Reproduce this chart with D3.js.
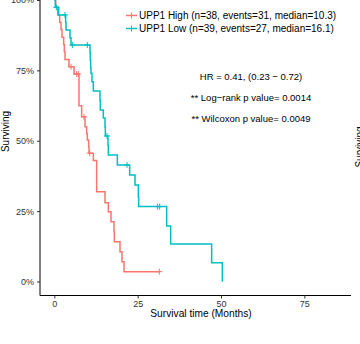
<!DOCTYPE html>
<html>
<head>
<meta charset="utf-8">
<script src="https://cdn.jsdelivr.net/npm/d3@7"></script>
<style>
  body { margin: 0; background: #fff; }
  text { font-family: "Liberation Sans", Arial, sans-serif; }
</style>
</head>
<body>
<svg id="chart" width="360" height="344"></svg>
<script>
// data
const highTimes = [0.4, 1.0, 1.6, 2.0, 2.3, 2.8, 3.0, 3.2, 4.4, 5.9, 7.4, 8.2, 9.2, 9.7, 9.9, 10.3, 10.4,
  11.7, 12.7, 15.2, 16.2, 17.0, 17.9, 18.0, 19.7, 20.3, 20.9];
const highSurv = [0.974, 0.947, 0.921, 0.895, 0.868, 0.842, 0.816, 0.789, 0.763, 0.737, 0.624, 0.585, 0.550,
  0.526, 0.503, 0.480, 0.456, 0.430, 0.319, 0.280, 0.248, 0.212, 0.177, 0.141, 0.106, 0.070, 0.035];
const highCensor = [5.0, 6.7, 7.2, 8.9, 10.6, 31.5];

const lowTimes = [0.3, 1.3, 3.4, 3.5, 4.7, 5.0, 10.7, 10.8, 10.9, 11.0, 11.3, 11.7, 13.7, 13.8, 14.7, 15.2,
  15.3, 16.1, 16.2, 18.9, 22.6, 24.2, 25.2, 25.3, 33.7, 34.9, 47.2, 50.4];
const lowSurv = [0.974, 0.947, 0.920, 0.893, 0.866, 0.840, 0.813, 0.786, 0.759, 0.740, 0.710, 0.677, 0.643,
  0.609, 0.581, 0.549, 0.517, 0.483, 0.449, 0.414, 0.378, 0.343, 0.300, 0.266, 0.197, 0.133, 0.067, 0.0];
const lowCensor = [0.6, 3.2, 5.4, 9.9, 15.8, 21.8, 31.0, 31.6];

const groupNames = ['UPP1 High (n=38, events=31, median=10.3)', 'UPP1 Low (n=39, events=27, median=16.1)'];
const groupColors = ['#F8766D', '#00BFC4'];
const xTicks = [0, 25, 50, 75];
const yTicks = [0, 0.25, 0.5, 0.75, 1];
const statLines = ['HR = 0.41, (0.23 \u2212 0.72)', '** Log\u2212rank p value= 0.0014', '** Wilcoxon p value= 0.0049'];

// sizing
const svg = d3.select('#chart');
const panel = { left: 40, right: 351, top: -14, bottom: 295.5 };

const x = d3.scaleLinear().domain([-4.3, 89]).range([panel.left, panel.right]);
const y = d3.scaleLinear().domain([0, 1]).range([281.5, 0]);

// axes
const xAxis = g => g
  .attr('transform', `translate(0,${panel.bottom})`)
  .call(d3.axisBottom(x).tickValues(xTicks).tickSize(3).tickPadding(2).tickSizeOuter(0))
  .call(g => g.select('.domain').attr('d', `M${panel.left},0H${panel.right}`));

const yAxis = g => g
  .attr('transform', `translate(${panel.left},0)`)
  .call(d3.axisLeft(y).tickValues(yTicks).tickFormat(d3.format('.0%')).tickSize(3).tickPadding(3).tickSizeOuter(0))
  .call(g => g.select('.domain').attr('d', `M0,${panel.top}V${panel.bottom}`));

[xAxis, yAxis].forEach(ax => {
  const g = svg.append('g').call(ax);
  g.selectAll('.domain').attr('stroke', '#000').attr('stroke-width', 1);
  g.selectAll('.tick line').attr('stroke', '#333');
  g.selectAll('.tick text').attr('fill', '#333').style('font-size', '9px')
    .style('font-family', '"Liberation Sans", Arial, sans-serif');
});

// curves
const line = d3.line()
  .x(d => x(d[0]))
  .y(d => y(d[1]))
  .curve(d3.curveStepAfter);

const survAt = (times, surv, t) => {
  let s = 1;
  times.forEach((tt, i) => { if (tt <= t) s = surv[i]; });
  return s;
};

const groups = [
  { times: highTimes, surv: highSurv, censor: highCensor },
  { times: lowTimes, surv: lowSurv, censor: lowCensor }
];

const plus = (cx, cy, r) => `M${cx - r},${cy}H${cx + r}M${cx},${cy - r}V${cy + r}`;

groups.forEach((grp, i) => {
  const pts = [[0, 1]].concat(grp.times.map((t, j) => [t, grp.surv[j]]));
  const tEnd = Math.max(d3.max(grp.times), d3.max(grp.censor));
  pts.push([tEnd, grp.surv[grp.surv.length - 1]]);

  svg.append('path')
    .datum(pts)
    .attr('fill', 'none')
    .attr('stroke', groupColors[i])
    .attr('stroke-width', 1.5)
    .attr('d', line);

  grp.censor.forEach(t => {
    svg.append('path')
      .attr('d', plus(x(t), y(survAt(grp.times, grp.surv, t)), 3))
      .attr('stroke', groupColors[i])
      .attr('stroke-width', 1);
  });
});

// legend
groupNames.forEach((name, i) => {
  const ly = 15.5 + i * 13;
  const g = svg.append('g');
  g.append('line')
    .attr('x1', 126).attr('x2', 137)
    .attr('y1', ly).attr('y2', ly)
    .attr('stroke', groupColors[i])
    .attr('stroke-width', 1.5);
  g.append('path')
    .attr('d', plus(131.5, ly, 3))
    .attr('stroke', groupColors[i])
    .attr('stroke-width', 1);
  g.append('text')
    .attr('x', 139)
    .attr('y', ly + 3.6)
    .style('font-size', '10px')
    .attr('fill', '#000')
    .text(name);
});

// stats
statLines.forEach((s, i) => {
  svg.append('text')
    .attr('x', 251)
    .attr('y', 80 + i * 21)
    .attr('text-anchor', 'middle')
    .style('font-size', '9.5px')
    .attr('fill', '#000')
    .text(s);
});

// titles
svg.append('text')
  .attr('x', 201)
  .attr('y', 317)
  .attr('text-anchor', 'middle')
  .style('font-size', '10.2px')
  .text('Survival time (Months)');

svg.append('text')
  .attr('transform', 'translate(8.5,131.5) rotate(-90)')
  .attr('text-anchor', 'middle')
  .style('font-size', '10px')
  .text('Surviving');

// neighbouring panel's axis title, cut by the right edge
svg.append('text')
  .attr('transform', 'translate(363,147) rotate(-90)')
  .attr('text-anchor', 'middle')
  .style('font-size', '10px')
  .text('Surviving');
</script>
</body>
</html>
